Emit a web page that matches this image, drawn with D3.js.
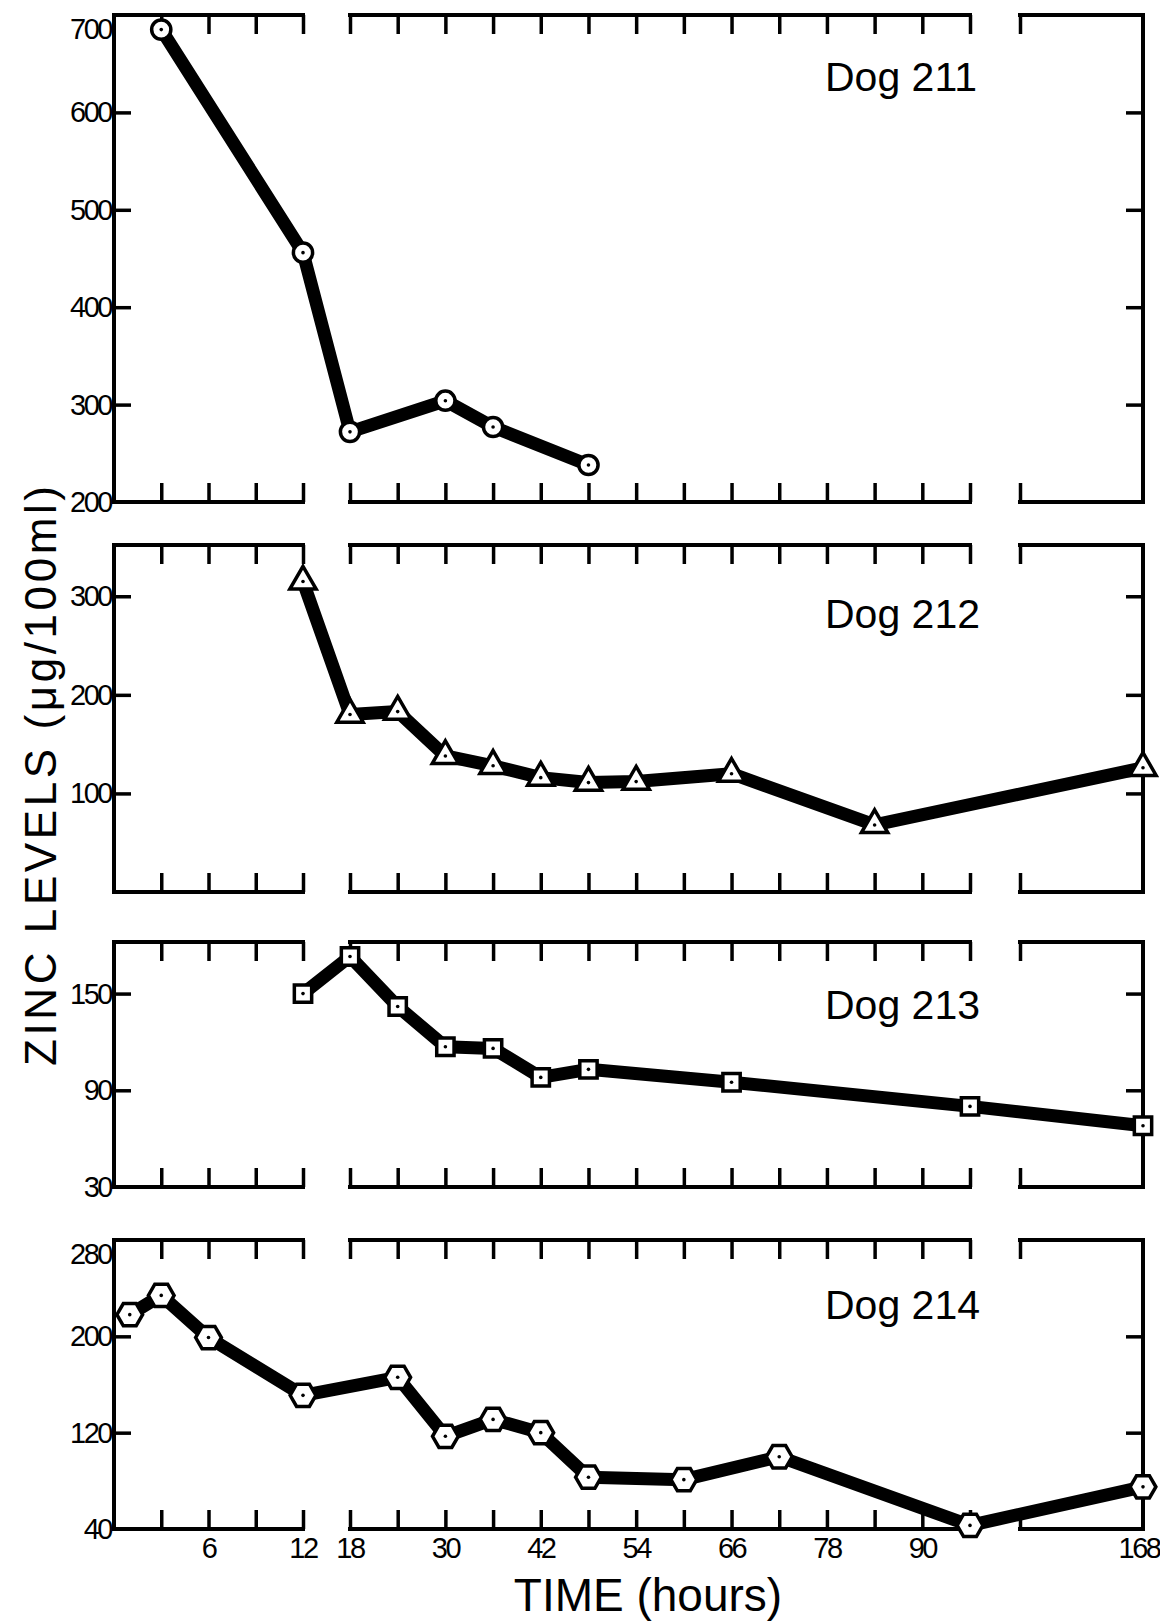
<!DOCTYPE html>
<html>
<head>
<meta charset="utf-8">
<script src="https://cdn.jsdelivr.net/npm/d3@7"></script>
<style>
body { margin: 0; background: #fff; }
text { font-family: "Liberation Sans", Arial, sans-serif; fill: #000; }
</style>
</head>
<body>
<script>
// values (hours, zinc ug/100ml)
const hours211 = [3, 12, 18, 30, 36, 48];
const zinc211 = [685, 456, 272, 304, 277, 238];

const hours212 = [12, 18, 24, 30, 36, 42, 48, 54, 66, 84, 168];
const zinc212 = [315, 180, 183, 138, 128, 116, 111, 112, 120, 68, 126];

const hours213 = [12, 18, 24, 30, 36, 42, 48, 66, 96, 168];
const zinc213 = [150, 173, 142, 117, 116, 98, 103, 95, 80, 68];

const hours214 = [1, 3, 6, 12, 24, 30, 36, 42, 48, 60, 72, 96, 168];
const zinc214 = [218, 234, 199, 151, 166, 117, 131, 120, 83, 81, 100, 43, 75];

// tick labels
const yTicks211 = [200, 300, 400, 500, 600, 700];
const yTicks212 = [100, 200, 300];
const yTicks213 = [30, 90, 150];
const yTicks214 = [40, 120, 200, 280];
const timeLabels = [6, 12, 18, 30, 42, 54, 66, 78, 90, 168];

const width = 1160, height = 1623;

const svg = d3.select("body").append("svg")
    .attr("width", width)
    .attr("height", height);

// broken time axis: 0-12 h (3 h ticks), 18-96 h (6 h ticks), then a stub ending at 168 h
const segments = [
    {h0: 0, h1: 12, step: 3},
    {h0: 18, h1: 96, step: 6},
    {h0: 150, h1: 168, step: 18}
];
const x = d3.scaleLinear()
    .domain([0, 12, 18, 96, 150, 168])
    .range([114, 303, 350, 970, 1020, 1143]);

const xLeft = x(0), xRight = x(168);
const tickLen = 19;

// hexagon marker, flat top and bottom
const hexagon = {
    draw(context, size) {
        const r = Math.sqrt(size / 2.598);
        for (let i = 0; i < 6; i++) {
            const a = i * Math.PI / 3;
            const px = r * Math.cos(a), py = r * Math.sin(a);
            if (i === 0) context.moveTo(px, py); else context.lineTo(px, py);
        }
        context.closePath();
    }
};

const panels = [
    {name: "Dog 211", hours: hours211, zinc: zinc211, ticks: yTicks211, domain: [200, 700], top: 15, bottom: 502, symbol: d3.symbolCircle, size: 290, labelY: 91},
    {name: "Dog 212", hours: hours212, zinc: zinc212, ticks: yTicks212, domain: [0, 352], top: 545, bottom: 892, symbol: d3.symbolTriangle, size: 300, labelY: 628},
    {name: "Dog 213", hours: hours213, zinc: zinc213, ticks: yTicks213, domain: [30, 182], top: 942, bottom: 1187, symbol: d3.symbolSquare, size: 300, labelY: 1019},
    {name: "Dog 214", hours: hours214, zinc: zinc214, ticks: yTicks214, domain: [40, 280], top: 1240, bottom: 1529, symbol: hexagon, size: 430, labelY: 1319}
];

panels.forEach(function (p, idx) {
    const y = d3.scaleLinear().domain(p.domain).range([p.bottom, p.top]);
    const g = svg.append("g");
    const inner = p.ticks.filter(t => t > p.domain[0] && t < p.domain[1]);

    // frame pieces for each time segment, top and bottom
    segments.forEach(function (s) {
        [p.top, p.bottom].forEach(function (yy) {
            g.append("line")
                .attr("x1", x(s.h0)).attr("x2", x(s.h1))
                .attr("y1", yy).attr("y2", yy)
                .attr("stroke", "#000").attr("stroke-width", 4)
                .attr("stroke-linecap", "square");
        });
        const tv = d3.range(s.h0, s.h1 + 0.01, s.step).filter(h => h !== 0 && h !== 168);

        const bottomAxis = d3.axisBottom(x).tickValues(tv).tickSize(-tickLen).tickSizeOuter(0).tickFormat("");
        const topAxis = d3.axisTop(x).tickValues(tv).tickSize(-tickLen).tickSizeOuter(0).tickFormat("");
        g.append("g").attr("transform", `translate(0,${p.bottom})`).call(bottomAxis);
        g.append("g").attr("transform", `translate(0,${p.top})`).call(topAxis);
    });

    // left and right vertical axes
    g.append("line").attr("x1", xLeft).attr("x2", xLeft).attr("y1", p.top).attr("y2", p.bottom)
        .attr("stroke", "#000").attr("stroke-width", 4).attr("stroke-linecap", "square");
    g.append("line").attr("x1", xRight).attr("x2", xRight).attr("y1", p.top).attr("y2", p.bottom)
        .attr("stroke", "#000").attr("stroke-width", 4).attr("stroke-linecap", "square");

    g.append("g").attr("transform", `translate(${xLeft},0)`)
        .call(d3.axisRight(y).tickValues(inner).tickSize(tickLen - 2).tickSizeOuter(0).tickFormat(""));
    g.append("g").attr("transform", `translate(${xRight},0)`)
        .call(d3.axisLeft(y).tickValues(inner).tickSize(tickLen - 2).tickSizeOuter(0).tickFormat(""));

    // y tick labels
    g.selectAll("text.ylab")
        .data(p.ticks)
        .enter()
        .append("text")
        .attr("class", "ylab")
        .attr("x", xLeft - 3)
        .attr("y", function (d) {
            let yy = y(d) + 10;
            if (d === p.domain[1]) yy = y(d) + 24;
            return yy;
        })
        .attr("text-anchor", "end")
        .attr("font-size", 29)
        .attr("letter-spacing", -2.5)
        .text(d => d);

    // the data line
    const pts = p.hours.map((h, i) => ({h: h, v: p.zinc[i]}));
    g.append("path")
        .datum(pts)
        .attr("fill", "none")
        .attr("stroke", "#000")
        .attr("stroke-width", 13)
        .attr("stroke-linejoin", "round")
        .attr("d", d3.line().x(d => x(d.h)).y(d => y(d.v)));

    // markers
    const sym = d3.symbol().type(p.symbol).size(p.size);
    const mk = g.selectAll("g.mk").data(pts).enter().append("g")
        .attr("class", "mk")
        .attr("transform", d => `translate(${x(d.h)},${y(d.v)})`);
    mk.append("path")
        .attr("d", sym())
        .attr("fill", "#fff")
        .attr("stroke", "#000")
        .attr("stroke-width", 3.5);
    mk.append("circle").attr("r", 1.8).attr("fill", "#000");

    g.append("text")
        .attr("x", 825)
        .attr("y", p.labelY)
        .attr("font-size", 41)
        .text(p.name);

    // time labels under the last panel
    if (idx === panels.length - 1) {
        g.selectAll("text.xlab")
            .data(timeLabels)
            .enter()
            .append("text")
            .attr("class", "xlab")
            .attr("x", d => x(d) - (d === 168 ? 4 : 0))
            .attr("y", p.bottom + 29)
            .attr("text-anchor", "middle")
            .attr("font-size", 29)
            .attr("letter-spacing", -2.5)
            .text(d => d);
    }
});

svg.selectAll(".domain").remove();
svg.selectAll(".tick line").attr("stroke", "#000").attr("stroke-width", 3.5);

// axis titles
svg.append("text")
    .attr("transform", "translate(56,776) rotate(-90)")
    .attr("text-anchor", "middle")
    .attr("font-size", 44)
    .attr("textLength", 580)
    .attr("lengthAdjust", "spacing")
    .text("ZINC LEVELS (\u03bcg/100ml)");

svg.append("text")
    .attr("x", 648)
    .attr("y", 1611)
    .attr("text-anchor", "middle")
    .attr("font-size", 46)
    .text("TIME (hours)");
</script>
</body>
</html>
